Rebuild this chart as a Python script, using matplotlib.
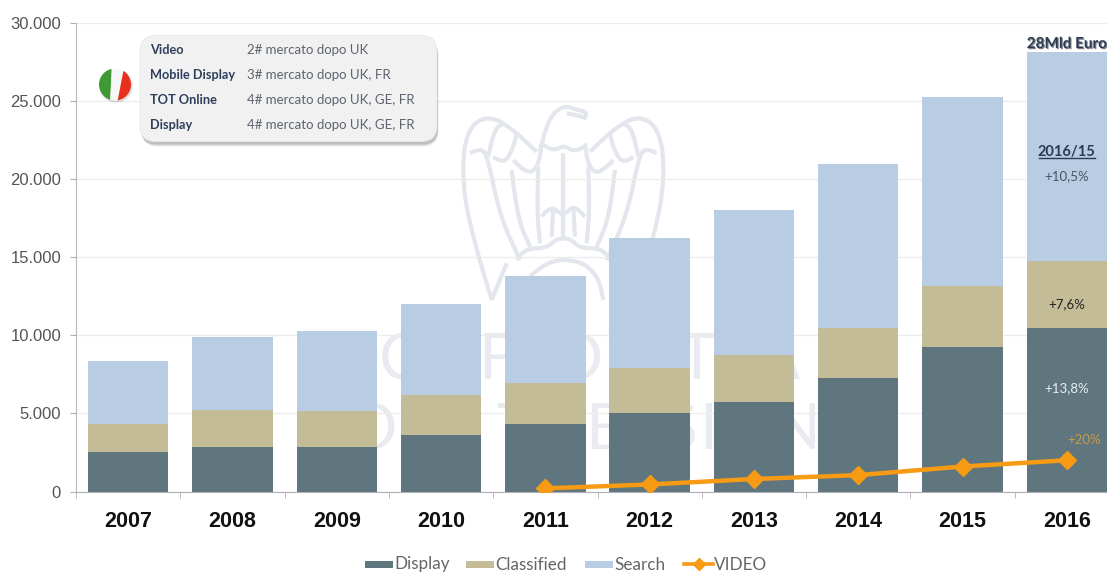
import matplotlib
matplotlib.use("Agg")
import matplotlib.pyplot as plt
import matplotlib.patheffects as pe
from matplotlib.patches import FancyBboxPatch, Ellipse, Rectangle, Polygon, PathPatch
from matplotlib.path import Path
from matplotlib.lines import Line2D
import numpy as np

years = ["2007", "2008", "2009", "2010", "2011", "2012", "2013", "2014", "2015", "2016"]
display = [2500, 2850, 2850, 3600, 4300, 5000, 5700, 7250, 9250, 10500]
classified = [1800, 2350, 2300, 2600, 2650, 2900, 3050, 3200, 3900, 4250]
search = [4050, 4700, 5150, 5800, 6850, 8350, 9300, 10500, 12100, 13400]
video_years = ["2011", "2012", "2013", "2014", "2015", "2016"]
video = [200, 450, 800, 1050, 1600, 2000]
y_ticks = [0, 5000, 10000, 15000, 20000, 25000, 30000]
y_labels = ["0", "5.000", "10.000", "15.000", "20.000", "25.000", "30.000"]
box_keys = ["Video", "Mobile Display", "TOT Online", "Display"]
box_vals = ["2# mercato dopo UK", "3# mercato dopo UK, FR", "4# mercato dopo UK, GE, FR", "4# mercato dopo UK, GE, FR"]

C_D, C_C, C_S, C_V = "#5f767f", "#c4bc96", "#b8cce4", "#f79a14"
WM = "#e3e6ed"
W, H = 1107, 572
plt.rcParams["font.family"] = ["Lato", "DejaVu Sans"]
fig = plt.figure(figsize=(W / 100, H / 100), dpi=100)

# watermark layer, behind the chart
bg = fig.add_axes([0, 0, 1, 1], zorder=0)
bg.set_xlim(0, W)
bg.set_ylim(H, 0)
bg.axis("off")


def curve(points, mirror=False):
    """Smooth open curve through zoom-crop coordinates of the watermark."""
    pts = [(360 + px / 3, 90 + py / 3) for px, py in points]
    if mirror:
        pts = [(2 * 563.3 - px, py) for px, py in pts]
    verts = [pts[0]]
    codes = [Path.MOVETO]
    for i in range(1, len(pts) - 1):
        mid = ((pts[i][0] + pts[i + 1][0]) / 2, (pts[i][1] + pts[i + 1][1]) / 2)
        verts += [pts[i], mid]
        codes += [Path.CURVE3, Path.CURVE3]
    verts.append(pts[-1])
    codes.append(Path.LINETO)
    bg.add_patch(PathPatch(Path(verts, codes), fc="none", ec=WM, lw=3))


wing_shapes = [
    [(395, 630), (330, 420), (305, 250), (320, 120), (380, 75), (450, 110), (530, 185)],
    [(395, 630), (440, 520)],
    [(330, 190), (365, 170), (385, 210), (420, 380), (480, 510)],
    [(385, 200), (400, 120), (430, 100)],
    [(400, 200), (430, 225), (460, 175), (470, 130)],
    [(455, 240), (470, 380), (510, 470)],
    [(460, 210), (500, 255), (535, 230), (545, 160)],
    [(535, 230), (530, 350), (540, 460)],
]
for shape in wing_shapes:
    curve(shape)
    curve(shape, mirror=True)
for shape in [
    [(540, 185), (560, 90), (610, 45), (650, 60), (680, 65), (675, 85)],
    [(620, 70), (650, 75), (680, 85)],
    [(550, 165), (580, 185), (610, 165), (640, 185), (675, 170)],
    [(610, 190), (610, 450)],
    [(545, 380), (570, 345), (610, 380), (640, 345), (675, 380)],
    [(580, 350), (575, 440)],
    [(640, 350), (645, 440)],
    [(470, 510), (490, 475), (560, 475), (590, 445), (630, 445), (660, 475), (725, 475), (750, 510)],
    [(510, 560), (560, 510), (660, 510), (715, 560), (730, 630)],
]:
    curve(shape)

wm_letters = [("C", 400, 361), ("F", 496, 361), ("O", 578, 361), ("T", 697, 361), ("A", 778, 361),
              ("D", 372, 431), ("T", 516, 431), ("E", 604, 431), ("S", 680, 431), ("I", 708, 431), ("N", 796, 431)]
for ch, px, py in wm_letters:
    bg.text(px, py, ch, ha="center", va="center", fontsize=46, color="#e9ebf0")

ax = fig.add_axes([76 / W, 1 - 491.5 / H, (1119 - 76) / W, (491.5 - 23) / H], zorder=1)
ax.patch.set_alpha(0)
x = np.arange(len(years))
bw = 0.77
d, c, s = np.array(display), np.array(classified), np.array(search)
ax.bar(x, d, bw, color=C_D, zorder=2)
ax.bar(x, c, bw, bottom=d, color=C_C, zorder=2)
ax.bar(x, s, bw, bottom=d + c, color=C_S, zorder=2)
vx = [years.index(v) for v in video_years]
ax.plot(vx, video, color=C_V, lw=3.2, marker="D", ms=9, zorder=4, solid_capstyle="round")

ax.set_xlim(-0.5, 9.5)
ax.set_ylim(0, 30000)
ax.set_yticks(y_ticks, y_labels, fontsize=12, color="#555555", family="Liberation Sans")
ax.set_xticks(x, years, fontsize=15.5, fontweight="bold", color="#111111", family="Liberation Sans")
ax.tick_params(axis="y", length=4.3, pad=6.5, color="#b0b0b0")
ax.tick_params(axis="x", length=0, pad=14)
ax.set_xticks(np.arange(-0.5, 10, 1), minor=True)
ax.tick_params(axis="x", which="minor", length=4.3, color="#b0b0b0")
ax.grid(axis="y", color="#ececec", lw=0.9, zorder=0)
for k in ("top", "right"):
    ax.spines[k].set_visible(False)
ax.spines["bottom"].set_color("#b0b0b8")
ax.spines["left"].set_color("#b8b8b8")

# annotations on the 2016 bar
txt = "#2b3a55"
ax.text(9, 28650, "28Mld Euro", ha="center", va="center", fontsize=11, fontweight="bold", color=txt,
        path_effects=[pe.withSimplePatchShadow(offset=(0.8, -0.8), alpha=0.5)], zorder=6, clip_on=False)
ax.text(9, 21750, "2016/15", ha="center", va="center", fontsize=10.5, fontweight="bold", color=txt, zorder=6)
ax.plot([8.73, 9.27], [21350, 21350], color=txt, lw=1, zorder=6)
ax.text(9, 20200, "+10,5%", ha="center", va="center", fontsize=9.5, color="#4a5560", zorder=6)
ax.text(9, 12000, "+7,6%", ha="center", va="center", fontsize=9.5, color="#222222", zorder=6)
ax.text(9, 6600, "+13,8%", ha="center", va="center", fontsize=9.5, color="#e8edf0", zorder=6)
ax.text(9.17, 3300, "+20%", ha="center", va="center", fontsize=9.5, color="#c89a4a", zorder=6)

# overlay in pixel coordinates
ov = fig.add_axes([0, 0, 1, 1], zorder=10)
ov.set_xlim(0, W)
ov.set_ylim(H, 0)
ov.axis("off")
ov.patch.set_alpha(0)
for off, a in ((5, 0.10), (4, 0.14), (3, 0.18)):
    ov.add_patch(FancyBboxPatch((140 + off * .3, 35.5 + off), 297, 106, boxstyle="round,pad=0,rounding_size=16",
                                fc="#555555", ec="none", alpha=a))
ov.add_patch(FancyBboxPatch((140, 35.5), 297, 106, boxstyle="round,pad=0,rounding_size=16",
                            fc="#f1f1f1", ec="#e8e8e8", lw=0.6))
for i, (k, v) in enumerate(zip(box_keys, box_vals)):
    yy = 50.5 + i * 24.7
    ov.text(150, yy, k, va="center", fontsize=9.2, fontweight="bold", color="#2f3f5c")
    ov.text(247, yy, v, va="center", fontsize=9.5, color="#5d6470")

# flag
ov.add_patch(Ellipse((116, 86), 33, 33, fc="#999999", ec="none", alpha=0.35))
clip = Ellipse((115, 84.5), 32, 32, fc="none", ec="none")
ov.add_patch(clip)
flag_parts = [
    ([(95, 64), (112, 64), (110, 104), (95, 104)], "#3f9a35"),
    ([(112, 64), (124, 68), (117, 104), (110, 104)], "#f7f7f7"),
    ([(124, 68), (136, 64), (136, 104), (117, 104)], "#e8311c"),
]
for poly, col in flag_parts:
    p = Polygon(poly, fc=col, ec="none")
    ov.add_patch(p)
    p.set_clip_path(clip)

# legend
legend_items = [("Display", C_D, 365, 393), ("Classified", C_C, 466, 494), ("Search", C_S, 585, 613)]
for name, col, x0, x1 in legend_items:
    ov.add_patch(Rectangle((x0, 561), x1 - x0, 7, fc=col, ec="none"))
    ov.text(x1 + 1, 564.5, name, va="center", fontsize=12.3, color="#666666")
ov.add_line(Line2D([684, 713], [564, 564], color=C_V, lw=2.6))
ov.add_line(Line2D([698.5], [564], color=C_V, marker="D", ms=6.5, ls="none"))
ov.text(714, 564.5, "VIDEO", va="center", fontsize=12.3, color="#666666")

fig.savefig("out.png", dpi=100, facecolor="white")
